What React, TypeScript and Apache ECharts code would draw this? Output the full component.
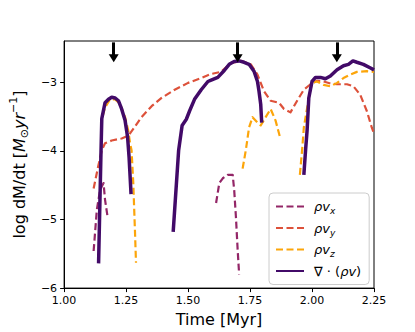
import React, { useEffect, useRef } from "react";
import * as echarts from "echarts";

// ---- data (time in Myr, log dM/dt) ----
const xTicks = [1.0, 1.25, 1.5, 1.75, 2.0, 2.25];
const yTicks = [-6, -5, -4, -3];
const arrowTimes = [1.2, 1.7, 2.1];
const arrowTop = -2.42;
const arrowTip = -2.65;

// rho v_x
const vxT1 = [1.119, 1.132, 1.145, 1.159, 1.165, 1.176];
const vxV1 = [-5.46, -4.86, -4.57, -4.47, -4.71, -4.98];
const vxT2 = [1.613, 1.626, 1.640, 1.660, 1.680, 1.686, 1.693, 1.700, 1.706];
const vxV2 = [-4.76, -4.47, -4.40, -4.35, -4.35, -4.57, -4.96, -5.44, -5.80];

// rho v_y
const vyT = [1.119, 1.136, 1.152, 1.165, 1.192, 1.232, 1.259, 1.279, 1.312, 1.353, 1.393, 1.446, 1.5, 1.553, 1.593, 1.633, 1.673, 1.713, 1.753, 1.780, 1.806, 1.833, 1.867, 1.887, 1.913, 1.940, 1.967, 1.994, 2.020, 2.047, 2.074, 2.101, 2.141, 2.167, 2.194, 2.221, 2.241, 2.25];
const vyV = [-4.55, -4.25, -3.99, -3.89, -3.85, -3.82, -3.78, -3.68, -3.51, -3.35, -3.23, -3.11, -3.01, -2.94, -2.88, -2.85, -2.72, -2.69, -2.74, -2.89, -3.13, -3.27, -3.30, -3.39, -3.44, -3.27, -3.11, -3.03, -2.98, -2.99, -3.02, -3.03, -3.03, -3.06, -3.18, -3.42, -3.66, -3.75];

// rho v_z
const vzT1 = [1.156, 1.165, 1.185, 1.206, 1.226, 1.246, 1.259, 1.266, 1.272, 1.279, 1.286, 1.290];
const vzV1 = [-3.49, -3.37, -3.25, -3.25, -3.32, -3.51, -3.71, -3.89, -3.99, -4.47, -5.19, -5.63];
const vzT2 = [1.720, 1.733, 1.746, 1.760, 1.780, 1.793, 1.813, 1.833, 1.853, 1.873];
const vzV2 = [-4.26, -3.99, -3.66, -3.51, -3.59, -3.63, -3.51, -3.39, -3.56, -3.83];
const vzT3 = [1.951, 1.960, 1.967, 1.987, 2.0, 2.020, 2.047, 2.074, 2.101, 2.127, 2.154, 2.181, 2.221, 2.25];
const vzV3 = [-4.35, -3.99, -3.66, -3.23, -3.01, -2.99, -3.04, -3.06, -3.01, -2.94, -2.89, -2.85, -2.84, -2.85];

// divergence of rho v
const divT1 = [1.139, 1.148, 1.152, 1.165, 1.179, 1.192, 1.206, 1.219, 1.232, 1.246, 1.256, 1.262, 1.270];
const divV1 = [-5.64, -4.14, -3.53, -3.30, -3.25, -3.22, -3.23, -3.27, -3.39, -3.56, -3.80, -4.09, -4.63];
const divT2 = [1.440, 1.462, 1.476, 1.493, 1.506, 1.526, 1.553, 1.580, 1.593, 1.620, 1.646, 1.666, 1.686, 1.706, 1.726, 1.746, 1.766, 1.780, 1.786, 1.793, 1.797];
const divV2 = [-5.18, -3.99, -3.63, -3.54, -3.42, -3.25, -3.11, -2.99, -2.97, -2.93, -2.83, -2.74, -2.70, -2.69, -2.71, -2.74, -2.84, -2.99, -3.13, -3.32, -3.59];
const divT3 = [1.967, 1.974, 1.980, 1.987, 2.0, 2.014, 2.034, 2.054, 2.074, 2.101, 2.127, 2.147, 2.165, 2.181, 2.207, 2.234, 2.25];
const divV3 = [-4.35, -3.99, -3.71, -3.23, -2.99, -2.93, -2.93, -2.95, -2.91, -2.82, -2.76, -2.74, -2.69, -2.71, -2.74, -2.79, -2.82];

const names = ["ρvx", "ρvy", "ρvz", "∇·(ρv)"];
const colors = ["#932667", "#dd513a", "#fca50a", "#420a68"];

function joinSegments(segs: [number[], number[]][]) {
  const out: (number | null)[][] = [];
  segs.forEach(([t, v], i) => {
    if (i > 0) out.push([t[0], null]);
    t.forEach((x, j) => out.push([x, v[j]]));
  });
  return out;
}

const FONT = "DejaVu Sans";

export default function App() {
  const ref = useRef<HTMLDivElement>(null);
  useEffect(() => {
    document.body.style.margin = "0";
    if (!ref.current) return;
    const chart = echarts.init(ref.current, undefined, { renderer: "svg" });

    const lineSeries = (idx: number, data: any[], solid: boolean) => ({
      name: names[idx],
      type: "line",
      data,
      symbol: "none",
      connectNulls: false,
      silent: true,
      z: solid ? 3 : 2,
      lineStyle: {
        color: colors[idx],
        width: solid ? 3.5 : 2.2,
        type: solid ? "solid" : [7, 3.5],
        cap: "butt",
        join: "round",
      },
      itemStyle: { color: colors[idx] },
    });

    chart.setOption({
      animation: false,
      grid: { left: 62, right: 41, top: 41, bottom: 40, show: true, borderColor: "#000", borderWidth: 1 },
      legend: {
        orient: "vertical",
        left: 269,
        top: 193,
        padding: [7, 8, 7, 6],
        itemGap: 6,
        itemWidth: 28,
        itemHeight: 14,
        backgroundColor: "rgba(255,255,255,0.8)",
        borderColor: "#cccccc",
        borderWidth: 1,
        borderRadius: 4,
        data: names,
        itemStyle: { opacity: 0, borderWidth: 0 },
        formatter: (n: string) => {
          if (n === names[3]) return "{op|∇ · (}{it|ρv}{op|)}";
          return "{it|ρv}{sub|" + n.slice(2) + "}";
        },
        textStyle: {
          fontFamily: FONT,
          fontSize: 13,
          color: "#000",
          padding: [0, 0, 0, 5],
          rich: {
            it: { fontFamily: FONT, fontSize: 13, fontStyle: "italic", lineHeight: 18, verticalAlign: "middle", color: "#000" },
            op: { fontFamily: FONT, fontSize: 13, lineHeight: 18, verticalAlign: "middle", color: "#000" },
            sub: { fontFamily: FONT, fontSize: 9, fontStyle: "italic", lineHeight: 9, verticalAlign: "bottom", color: "#000" },
          },
        },
      },
      xAxis: {
        type: "value",
        min: 1.0,
        max: 2.25,
        interval: 0.25,
        name: "Time [Myr]",
        nameLocation: "middle",
        nameGap: 22,
        nameTextStyle: { fontFamily: FONT, fontSize: 16, color: "#000" },
        splitLine: { show: false },
        axisLine: { show: true, lineStyle: { color: "#000", width: 1 } },
        axisTick: { show: true, length: 4, lineStyle: { color: "#000" }, customValues: xTicks },
        axisLabel: {
          fontFamily: FONT,
          fontSize: 11,
          color: "#000",
          margin: 7,
          customValues: xTicks,
          formatter: (v: number) => v.toFixed(2),
        },
      },
      yAxis: {
        type: "value",
        min: -6,
        max: -2.4,
        interval: 1,
        name: "log dM/dt [{it|M}{sub|⊙}{it|yr}{sup|−1}]",
        nameLocation: "middle",
        nameGap: 28,
        nameRotate: 90,
        nameTextStyle: {
          fontFamily: FONT,
          fontSize: 16,
          color: "#000",
          lineHeight: 22,
          rich: {
            it: { fontFamily: FONT, fontSize: 16, fontStyle: "italic", lineHeight: 22, verticalAlign: "middle", color: "#000" },
            sub: { fontFamily: FONT, fontSize: 11, lineHeight: 11, verticalAlign: "bottom", color: "#000" },
            sup: { fontFamily: FONT, fontSize: 11, lineHeight: 11, verticalAlign: "top", color: "#000" },
          },
        },
        splitLine: { show: false },
        axisLine: { show: true, lineStyle: { color: "#000", width: 1 } },
        axisTick: { show: true, length: 4, lineStyle: { color: "#000" }, customValues: yTicks },
        axisLabel: {
          fontFamily: FONT,
          fontSize: 11,
          color: "#000",
          margin: 7,
          customValues: yTicks,
          formatter: (v: number) => (v < 0 ? "\u2212" + Math.abs(v) : String(v)),
        },
      },
      series: [
        lineSeries(0, joinSegments([[vxT1, vxV1], [vxT2, vxV2]]), false),
        lineSeries(1, joinSegments([[vyT, vyV]]), false),
        lineSeries(2, joinSegments([[vzT1, vzV1], [vzT2, vzV2], [vzT3, vzV3]]), false),
        lineSeries(3, joinSegments([[divT1, divV1], [divT2, divV2], [divT3, divV3]]), true),
        {
          name: "arrows",
          type: "line",
          data: [],
          silent: true,
          markLine: {
            silent: true,
            animation: false,
            symbol: ["none", "triangle"],
            symbolSize: [10, 8],
            label: { show: false },
            lineStyle: { color: "#000", width: 3, type: "solid" },
            data: arrowTimes.map((t) => [
              { coord: [t, arrowTop] },
              { coord: [t, arrowTip] },
            ]),
          },
        },
      ],
    });
    return () => chart.dispose();
  }, []);
  return <div ref={ref} style={{ width: 415, height: 332 }} />;
}
